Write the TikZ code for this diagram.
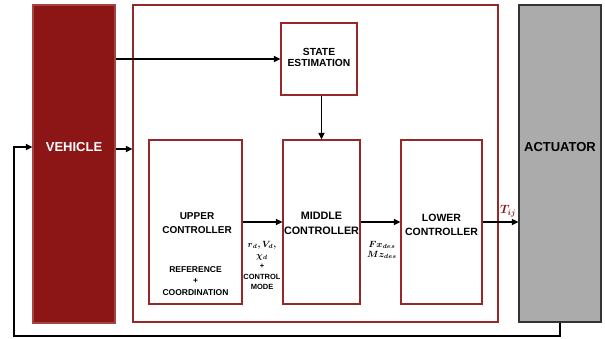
\documentclass[tikz,border=0pt]{standalone}
\usepackage{fontspec}
\setmainfont{Liberation Sans}
\usepackage{bm}
\usetikzlibrary{arrows.meta}
\definecolor{vehred}{RGB}{140,22,22}
\definecolor{boxred}{RGB}{150,40,40}
\definecolor{actgray}{RGB}{171,171,171}
\newcommand\sigmathsize{\fontsize{9}{10.5}\selectfont}
\tikzset{
  ctrlbox/.style={draw=boxred, line width=1.2pt, fill=white, inner sep=0pt,
    font=\bfseries\fontsize{10.8}{14}\selectfont, align=center},
  sidebox/.style={line width=1.2pt, inner sep=0pt},
  sidetxt/.style={font=\bfseries\fontsize{13}{15}\selectfont, inner sep=0pt},
  arr/.style={line width=1.6pt, -{Triangle[length=6.5pt,width=6pt]}},
  lbl/.style={font=\bfseries\fontsize{7.5}{10.5}\selectfont, align=center, inner sep=0pt},
}
\begin{document}
\begin{tikzpicture}[x=1pt,y=-1pt]
\useasboundingbox (0,0) rectangle (605,339);
% main blocks
\node[sidebox, fill=vehred, draw=vehred!80!white,
  minimum width=82pt, minimum height=318pt] (vehicle) at (74,164) {};
\node[sidetxt, text=white] (vehtxt) at (74,147) {VEHICLE};
\node[ctrlbox, minimum width=365pt, minimum height=317pt] (outer) at (315.5,163.5) {};
\node[sidebox, fill=actgray, draw=black!80,
  minimum width=82pt, minimum height=317pt] (actuator) at (560,163.5) {};
\node[sidetxt, text=black] (acttxt) at (560,147) {ACTUATOR};
% controller stages
\node[ctrlbox, minimum width=76pt, minimum height=72pt] (state) at (319,59) {};
\node[ctrlbox, minimum width=93pt, minimum height=164pt] (upper) at (195.5,222) {};
\node[ctrlbox, minimum width=77pt, minimum height=164pt] (middle) at (321.5,222) {};
\node[ctrlbox, minimum width=81pt, minimum height=164pt] (lower) at (441.5,222) {};
\node[lbl, font=\bfseries\fontsize{10.3}{11.5}\selectfont] (statetxt) at (319,57.5) {STATE\\ESTIMATION};
\node[lbl, font=\bfseries\fontsize{10}{14}\selectfont] (uppertxt) at (197,223.5) {UPPER\\CONTROLLER};
\node[lbl, font=\bfseries\fontsize{10.8}{14.5}\selectfont] (middletxt) at (321.5,223.5) {MIDDLE\\CONTROLLER};
\node[lbl, font=\bfseries\fontsize{8.5}{11.5}\selectfont] (reftxt) at (195.5,281) {REFERENCE\\+\\COORDINATION};
\node[lbl, font=\bfseries\fontsize{10.5}{13.5}\selectfont] (lowertxt) at (441.5,225) {LOWER\\CONTROLLER};
% signal flow
\draw[arr] (vehicle.east |- state.west) -- (state.west);
\draw[arr] ([yshift=15pt]vehicle.east) coordinate (v2) -- (outer.west |- v2);
\draw[arr] (middle.north |- state.south) -- (middle.north);
\draw[arr] (upper.east) -- (middle.west);
\draw[arr] (middle.east) -- (lower.west);
\draw[arr] (lower.east) -- (actuator.west |- lower.east);
\coordinate (fbl) at (14,336);
\draw[arr] (actuator.south) |- (fbl) |- ([yshift=17pt]vehicle.west);
% signal labels
\node[lbl] (refsig) at (262,265.5) {{\sigmathsize$\bm{r_d, V_d,}$}\\{\sigmathsize$\bm{\chi_d}$}\\+\\CONTROL\\MODE};
\node[lbl, font=\fontsize{9}{10.5}\selectfont] (forces) at (382,250) {$\bm{Fx_{des}}$\\$\bm{Mz_{des}}$};
\node[lbl, text=vehred, font=\fontsize{12}{13}\selectfont] (torque) at (508,211) {$\bm{T_{ij}}$};
\end{tikzpicture}
\end{document}
